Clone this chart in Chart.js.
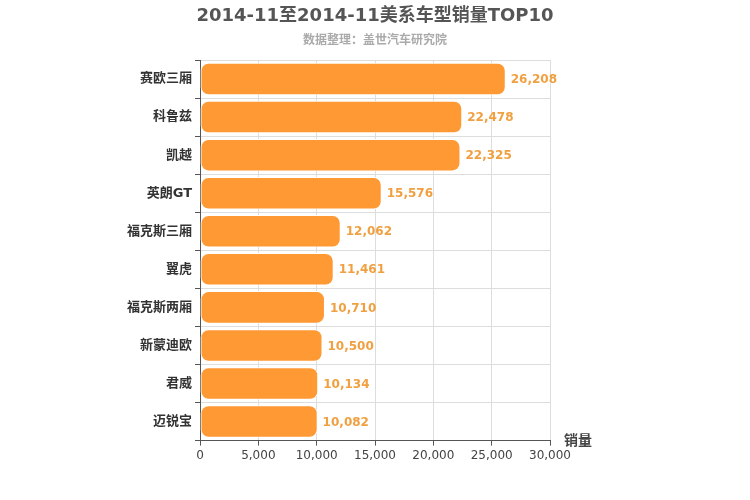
<!DOCTYPE html>
<html>
<head>
<meta charset="utf-8">
<script src="https://cdn.jsdelivr.net/npm/chart.js@4/dist/chart.umd.min.js"></script>
<style>
  body { margin: 0; background: #fff; }
  #wrap { width: 750px; height: 500px; }
</style>
</head>
<body>
<div id="wrap"><canvas id="salesChart"></canvas></div>
<script>
const categories = ["赛欧三厢", "科鲁兹", "凯越", "英朗GT", "福克斯三厢", "翼虎", "福克斯两厢", "新蒙迪欧", "君威", "迈锐宝"];
const salesValues = [26208, 22478, 22325, 15576, 12062, 11461, 10710, 10500, 10134, 10082];
const xTicks = [0, 5000, 10000, 15000, 20000, 25000, 30000];

const fontFamily = "'DejaVu Sans', 'Noto Sans CJK SC', sans-serif";

const extraText = {
    id: "extraText",
    afterDatasetsDraw(chart) {
        const ctx = chart.ctx;
        const meta = chart.getDatasetMeta(0);
        ctx.save();
        ctx.font = "bold 12px " + fontFamily;
        ctx.fillStyle = "#f0a040";
        ctx.textBaseline = "middle";
        meta.data.forEach((bar, i) => {
            ctx.fillText(salesValues[i].toLocaleString("en-US"), bar.x + 5, bar.y + 1);
        });
        const area = chart.chartArea;
        ctx.font = "bold 14px " + fontFamily;
        ctx.fillStyle = "#444";
        ctx.fillText("销量", area.right + 14, area.bottom + 1);

        // title and subtitle centred on the whole canvas
        ctx.textAlign = "center";
        ctx.font = "bold 18px " + fontFamily;
        ctx.fillStyle = "#555";
        ctx.fillText("2014-11至2014-11美系车型销量TOP10", chart.width / 2, 16);
        ctx.font = "bold 12px " + fontFamily;
        ctx.fillStyle = "#aaa";
        ctx.fillText("数据整理：盖世汽车研究院", chart.width / 2, 41);
        ctx.restore();
    }
};

new Chart(document.getElementById("salesChart"), {
    type: "bar",
    data: {
        labels: categories,
        datasets: [{
            data: salesValues,
            backgroundColor: "#ff9933",
            borderColor: "#ffffff",
            borderWidth: 1,
            borderRadius: 8,
            borderSkipped: false,
            categoryPercentage: 0.9,
            barPercentage: 0.95
        }]
    },
    options: {
        indexAxis: "y",
        responsive: true,
        maintainAspectRatio: false,
        animation: false,
        layout: { padding: { left: 20, right: 200, top: 60, bottom: 34 } },
        plugins: {
            legend: { display: false },
            tooltip: { enabled: false },
            title: { display: false }
        },
        scales: {
            x: {
                min: 0,
                max: 30000,
                afterBuildTicks(axis) { axis.ticks = xTicks.map(v => ({ value: v })); },
                ticks: {
                    color: "#444",
                    font: { size: 12, family: fontFamily },
                    callback: v => Number(v).toLocaleString("en-US")
                },
                grid: { color: "#dddddd", tickLength: 5, tickColor: "#555" },
                border: { color: "#555" }
            },
            y: {
                afterFit(axis) { axis.width = 180; },
                ticks: { color: "#333", font: { size: 13, weight: "bold", family: fontFamily } },
                grid: { color: "#dddddd", offset: true, tickLength: 5, tickColor: "#555" },
                border: { color: "#555" }
            }
        }
    },
    plugins: [extraText]
});
</script>
</body>
</html>
